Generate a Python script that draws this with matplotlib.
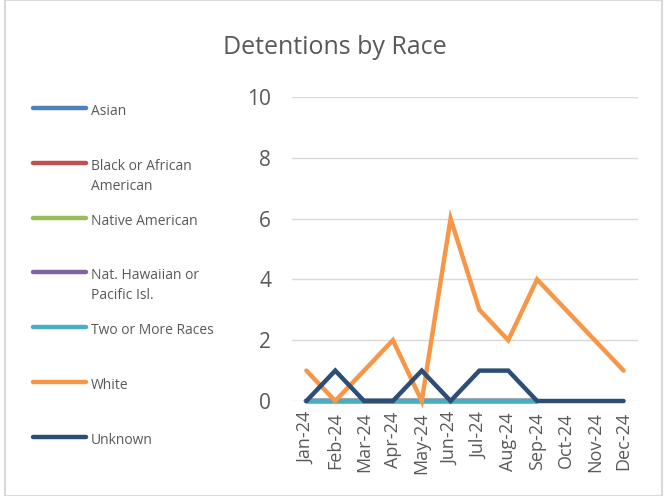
import matplotlib
matplotlib.use("Agg")
import matplotlib.pyplot as plt
from matplotlib.lines import Line2D
from matplotlib.patches import Rectangle
import numpy as np

plt.rcParams['font.family'] = ['Open Sans', 'DejaVu Sans']

months = ["Jan-24", "Feb-24", "Mar-24", "Apr-24", "May-24", "Jun-24",
          "Jul-24", "Aug-24", "Sep-24", "Oct-24", "Nov-24", "Dec-24"]
nan = np.nan
asian = [0, 0, 0, 0, 0, 0, 0, 0, 0, nan, nan, nan]
black = [0, 0, 0, 0, 0, 0, 0, 0, 0, nan, nan, nan]
native = [0, 0, 0, 0, 0, 0, 0, 0, 0, nan, nan, nan]
hawaiian = [0, 0, 0, 0, 0, 0, 0, 0, 0, nan, nan, nan]
two_more = [0, 0, 0, 0, 0, 0, 0, 0, 0, nan, nan, nan]
white = [1, 0, 1, 2, 0, 6, 3, 2, 4, 3, 2, 1]
unknown = [0, 1, 0, 0, 1, 0, 1, 1, 0, 0, 0, 0]

labels = ["Asian", "Black or African\nAmerican", "Native American",
          "Nat. Hawaiian or\nPacific Isl.", "Two or More Races", "White", "Unknown"]
series = [asian, black, native, hawaiian, two_more, white, unknown]
colors = ["#4F81BD", "#C0504D", "#9BBB59", "#8064A2", "#4BACC6", "#F79646", "#2C4D75"]

W, H = 667, 496
fig = plt.figure(figsize=(W / 100, H / 100), dpi=100)
fig.patches.append(Rectangle((5 / W, 0), 657 / W, 1, transform=fig.transFigure,
                             fill=False, edgecolor="#d9d9d9", linewidth=1.5))

ax = fig.add_axes([292 / W, 1 - 401 / H, 346 / W, 304 / H])
x = np.arange(len(months))
for s, c in zip(series, colors):
    ax.plot(x, s, color=c, linewidth=3.2, solid_capstyle="round",
            solid_joinstyle="miter", clip_on=False, zorder=3)

ax.set_xlim(-0.5, 11.5)
ax.set_ylim(0, 10)
ax.set_yticks(range(0, 11, 2))
ax.set_xticks(x)
ax.set_xticklabels(months, rotation=90)
ax.tick_params(length=0, colors="#595959")
ax.tick_params(axis="y", labelsize=15, pad=15)
ax.tick_params(axis="x", labelsize=13, pad=8)
ax.grid(axis="y", color="#d9d9d9", linewidth=1)
ax.set_axisbelow(True)
for sp in ax.spines.values():
    sp.set_visible(False)

fig.text(335 / W, 1 - 47 / H, "Detentions by Race", ha="center", va="center",
         fontsize=18, color="#595959")

# legend
ys = [108, 163, 218, 272, 327, 382, 437]
for lab, c, y in zip(labels, colors, ys):
    fig.add_artist(Line2D([33 / W, 86 / W], [1 - y / H, 1 - y / H], color=c,
                          linewidth=3.2, solid_capstyle="round"))
    fig.text(91 / W, 1 - (y - 4) / H, lab, ha="left", va="top", fontsize=10,
             color="#595959", linespacing=1.45)

fig.savefig("out.png", dpi=100)
